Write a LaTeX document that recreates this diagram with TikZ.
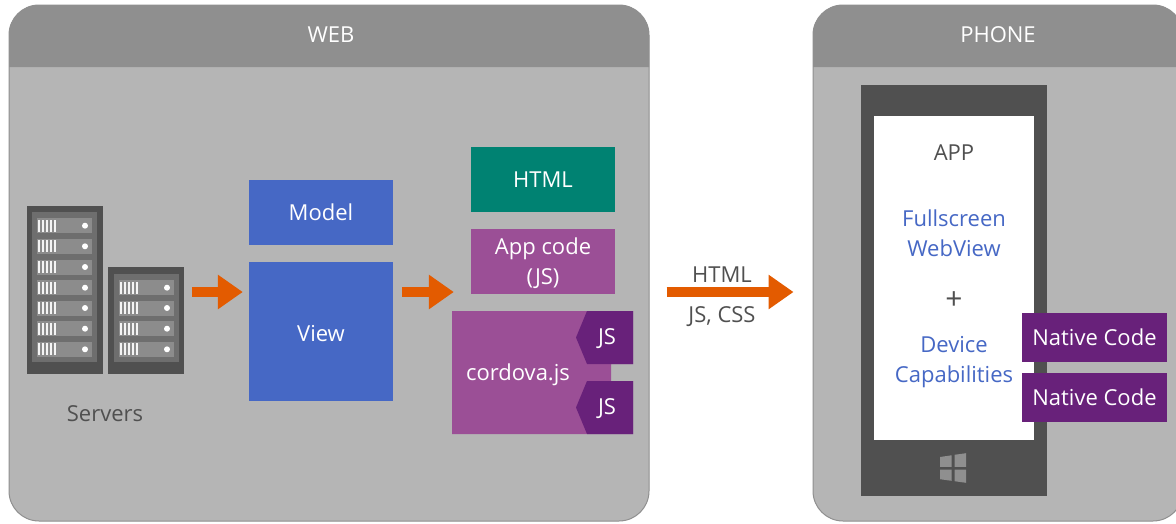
\documentclass[tikz,border=0pt]{standalone}
\usepackage{fontspec}
\setmainfont{Open Sans}
\usetikzlibrary{positioning, arrows.meta}
\definecolor{panelbody}{HTML}{B5B5B5}
\definecolor{panelhead}{HTML}{8F8F8F}
\definecolor{rackdark}{HTML}{505050}
\definecolor{rackmid}{HTML}{6E6E6E}
\definecolor{rackunit}{HTML}{8C8C8C}
\definecolor{blockblue}{HTML}{4668C5}
\definecolor{blockteal}{HTML}{008272}
\definecolor{blockpurple}{HTML}{9B4F96}
\definecolor{darkpurple}{HTML}{68217A}
\definecolor{floworange}{HTML}{E35B00}

\begin{document}
\begin{tikzpicture}[x=1pt, y=-1pt, node distance={60pt}, font=\fontsize{22}{30.5}\selectfont,
  panel/.style = {draw=panelhead, line width=1pt, fill=panelbody, rounded corners=30pt, inner sep=0pt},
  block/.style = {minimum width=144pt, minimum height=65pt, inner sep=0pt, align=center, text=white},
  native/.style = {minimum width=145pt, minimum height=49pt, inner sep=0pt, fill=darkpurple, text=white},
  rack/.style = {fill=rackdark, inner sep=0pt, minimum width=76pt},
  headtext/.style = {text=white},
  darktext/.style = {text=rackdark, align=center},
  bluetext/.style = {text=blockblue, align=center},
  flow/.style = {draw=floworange, line width=10pt, -{Triangle[length=25pt, width=33pt]}}]
\useasboundingbox (0,0) rectangle (1176,523);
\fill[white] (0,0) rectangle (1176,523);

% panels
\node[panel, minimum width=640pt, minimum height=516pt] (web) at (329,263) {};
\node[panel, minimum width=370pt, minimum height=516pt] (phone) at (998,263) {};
\fill[panelhead] (9,67) {[rounded corners=30pt] -- (9,5) -- (649,5)} -- (649,67) -- cycle;
\fill[panelhead] (813,67) {[rounded corners=30pt] -- (813,5) -- (1183,5)} -- (1183,67) -- cycle;
\node[headtext] (webtitle) at (331,35) {WEB};
\node[headtext] (phonetitle) at (998,35) {PHONE};

% servers
\node[rack, minimum height=168pt] (tallrack) at (65,290) {};
\node[rack, minimum height=107pt] (smallrack) at (146,320.5) {};
\fill[rackmid] (32,212) rectangle (97,362);
\fill[rackmid] (114,274) rectangle (179,362);
\foreach \x/\y in {37/225.7, 37/246.3, 37/267, 37/287.7, 37/308, 37/328.7, 37/349.3,
                   119/287.7, 119/308, 119/328.7, 119/349.3} {
  \fill[rackunit] (\x,\y-7.5) rectangle (\x+55,\y+7.5);
  \foreach \s in {2,6,10,14,18} {
    \fill[white!90!rackunit] (\x+\s-0.8,\y-6) rectangle (\x+\s+0.8,\y+6);
  }
  \fill[white] (\x+48,\y) circle (3pt);
}
\node[darktext] (servers) at (105,414) {Servers};

% middle blocks
\node[block, fill=blockblue, minimum height=139pt, text height=20pt] (view) at (321,331.5) {View};
\node[block, fill=blockblue] (model) [above of=view, node distance=119pt] {Model};
\node[block, fill=blockpurple] (appcode) at (543,261.5) {\rule{0pt}{20pt}App code\\(JS)};
\node[block, fill=blockteal] (htmlcode) [above of=appcode, node distance=82pt] {HTML};

% cordova
\fill[blockpurple] (452,311) -- (633,311) -- (633,364) -- (611,364) -- (611,381) -- (633,381) -- (633,434) -- (452,434) -- cycle;
\node[text=white] (cordova) at (518,375) {cordova.js};
\fill[darkpurple] (633,311) -- (587,311) -- (576,337.5) -- (587,364) -- (633,364) -- cycle;
\fill[darkpurple] (633,381) -- (587,381) -- (576,407.5) -- (587,434) -- (633,434) -- cycle;
\node[text=white] (jsone) at (607,339) {JS};
\node[text=white] (jstwo) at (607,409) {JS};

% phone
\fill[rackdark] (861,85) rectangle (1047,496);
\fill[white] (874,116) rectangle (1034,440);
\node[darktext] (app) at (954,153) {APP};
\node[bluetext] (webview) at (954,233) {Fullscreen\\WebView};
\node[darktext, font=\fontsize{30}{30}\selectfont] (plus) at (954,301) {+};
\node[bluetext] (device) at (954,362) {Device\\Capabilities};
\node[native] (nativeone) at (1094.5,337.5) {Native Code};
\node[native] (nativetwo) [below of=nativeone] {Native Code};
\fill[panelhead] (940,457) -- (951.5,455.3) -- (951.5,466.8) -- (940,466.8) -- cycle;
\fill[panelhead] (954.5,454.8) -- (966,453.2) -- (966,466.8) -- (954.5,466.8) -- cycle;
\fill[panelhead] (940,469.5) -- (951.5,469.5) -- (951.5,480.8) -- (940,479.2) -- cycle;
\fill[panelhead] (954.5,469.5) -- (966,469.5) -- (966,482.8) -- (954.5,481.2) -- cycle;

% arrows
\coordinate (flowline) at (0,292);
\draw[flow, shorten <=8pt, shorten >=6pt] (smallrack.east |- flowline) -- (view.west |- flowline);
\draw[flow, shorten <=9pt, shorten >=17pt] (view.east |- flowline) -- (appcode.west |- flowline);
\draw[flow, shorten <=17pt, shorten >=19pt] (web.east |- flowline) -- (phone.west |- flowline);
\node[text=rackdark] (htmllabel) at (722,275) {HTML};
\node[text=rackdark] (jscss) at (722,317) {JS, CSS};

\end{tikzpicture}
\end{document}
